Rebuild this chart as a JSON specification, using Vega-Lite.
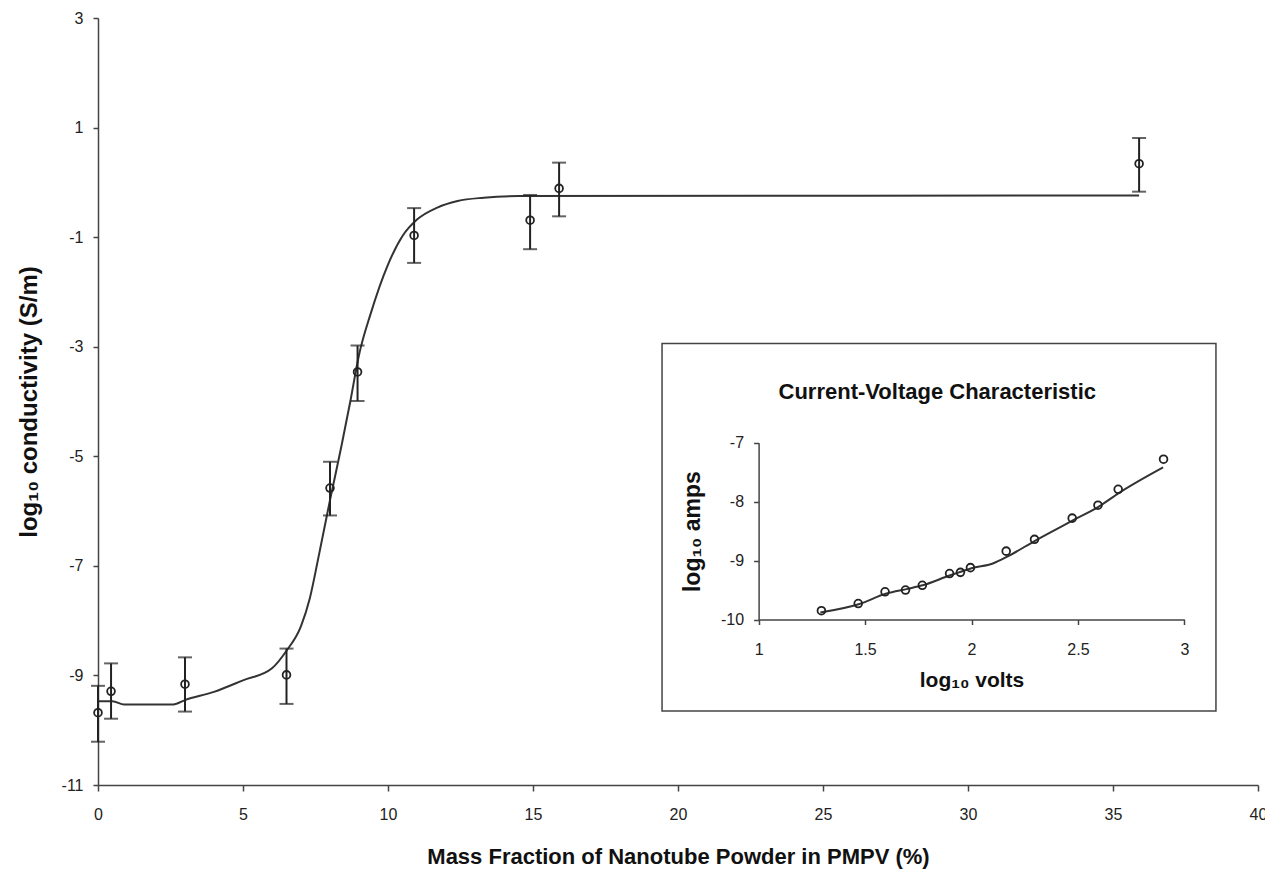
{
  "$schema": "https://vega.github.io/schema/vega-lite/v6.json",
  "autosize": {"type": "none"},
  "padding": {"left": 98, "top": 18, "right": 7, "bottom": 89},
  "width": 1160,
  "height": 767,
  "background": "white",
  "config": {
    "view": {"stroke": null},
    "font": "Liberation Sans",
    "axis": {
      "grid": false,
      "domainColor": "#444",
      "tickColor": "#444",
      "labelColor": "#222",
      "titleColor": "#111",
      "labelFont": "Liberation Sans",
      "titleFont": "Liberation Sans",
      "titleFontWeight": "bold",
      "domainWidth": 1.5,
      "tickWidth": 1.5,
      "labelExpr": "'' + datum.value"
    }
  },
  "datasets": {
    "meas": [
      {"x": 0, "y": -9.68, "lo": -10.21, "hi": -9.19},
      {"x": 0.45, "y": -9.29, "lo": -9.79, "hi": -8.78},
      {"x": 3, "y": -9.16, "lo": -9.66, "hi": -8.67},
      {"x": 6.5, "y": -8.99, "lo": -9.52, "hi": -8.51},
      {"x": 8, "y": -5.58, "lo": -6.08, "hi": -5.1},
      {"x": 8.95, "y": -3.46, "lo": -3.99, "hi": -2.98},
      {"x": 10.9, "y": -0.97, "lo": -1.47, "hi": -0.47},
      {"x": 14.9, "y": -0.69, "lo": -1.22, "hi": -0.23},
      {"x": 15.9, "y": -0.11, "lo": -0.62, "hi": 0.36},
      {"x": 35.9, "y": 0.34, "lo": -0.17, "hi": 0.81}
    ],
    "fit": [
      {"x": 0, "y": -9.47}, {"x": 0.5, "y": -9.47}, {"x": 0.9, "y": -9.53},
      {"x": 2.6, "y": -9.53}, {"x": 3.0, "y": -9.45}, {"x": 4.0, "y": -9.3},
      {"x": 5.0, "y": -9.09}, {"x": 6.0, "y": -8.87}, {"x": 6.5, "y": -8.55},
      {"x": 7.0, "y": -8.1}, {"x": 7.3, "y": -7.6}, {"x": 7.6, "y": -6.85},
      {"x": 8.0, "y": -5.8}, {"x": 8.4, "y": -4.8}, {"x": 8.7, "y": -4.0},
      {"x": 9.0, "y": -3.15}, {"x": 9.4, "y": -2.4}, {"x": 10.0, "y": -1.5},
      {"x": 10.5, "y": -0.98}, {"x": 11.0, "y": -0.68}, {"x": 11.7, "y": -0.46},
      {"x": 12.4, "y": -0.34}, {"x": 13.3, "y": -0.28}, {"x": 14.5, "y": -0.25},
      {"x": 35.9, "y": -0.24}
    ],
    "iv": [
      {"v": 1.295, "a": -9.85}, {"v": 1.468, "a": -9.73}, {"v": 1.594, "a": -9.53},
      {"v": 1.69, "a": -9.5}, {"v": 1.769, "a": -9.42}, {"v": 1.897, "a": -9.22},
      {"v": 1.948, "a": -9.2}, {"v": 1.995, "a": -9.12}, {"v": 2.163, "a": -8.84},
      {"v": 2.296, "a": -8.64}, {"v": 2.473, "a": -8.28}, {"v": 2.594, "a": -8.06},
      {"v": 2.689, "a": -7.79}, {"v": 2.902, "a": -7.28}
    ],
    "ivfit": [
      {"v": 1.29, "a": -9.88}, {"v": 1.47, "a": -9.74}, {"v": 1.6, "a": -9.56},
      {"v": 1.7, "a": -9.48}, {"v": 1.77, "a": -9.42}, {"v": 1.9, "a": -9.25},
      {"v": 1.95, "a": -9.19}, {"v": 2.0, "a": -9.13}, {"v": 2.1, "a": -9.05},
      {"v": 2.17, "a": -8.93}, {"v": 2.3, "a": -8.66}, {"v": 2.47, "a": -8.33},
      {"v": 2.6, "a": -8.08}, {"v": 2.69, "a": -7.86}, {"v": 2.9, "a": -7.42}
    ]
  },
  "layer": [
    {
      "layer": [
        {
          "data": {"values": [{}]},
          "mark": {"type": "rect", "fill": null, "stroke": "#444", "strokeWidth": 1.5},
          "encoding": {
            "x": {"datum": 19.45, "type": "quantitative"},
            "x2": {"datum": 38.55},
            "y": {"datum": -2.94, "type": "quantitative"},
            "y2": {"datum": -9.65}
          }
        },
        {
          "data": {"values": [{"t": "Current-Voltage Characteristic"}]},
          "mark": {"type": "text", "fontSize": 22, "fontWeight": "bold", "font": "Liberation Sans", "color": "#111", "baseline": "middle", "align": "center"},
          "encoding": {
            "x": {"datum": 28.94, "type": "quantitative"},
            "y": {"datum": -3.83, "type": "quantitative"},
            "text": {"field": "t"}
          }
        },
        {
          "data": {"name": "fit"},
          "mark": {"type": "line", "color": "#333", "strokeWidth": 2, "interpolate": "monotone"},
          "encoding": {
            "x": {"field": "x", "type": "quantitative"},
            "y": {"field": "y", "type": "quantitative"}
          }
        },
        {
          "data": {"name": "meas"},
          "mark": {"type": "rule", "color": "#222", "strokeWidth": 2},
          "encoding": {
            "x": {"field": "x", "type": "quantitative"},
            "y": {"field": "lo", "type": "quantitative"},
            "y2": {"field": "hi"}
          }
        },
        {
          "data": {"name": "meas"},
          "mark": {"type": "tick", "orient": "horizontal", "color": "#222", "size": 14, "thickness": 2},
          "encoding": {
            "x": {"field": "x", "type": "quantitative"},
            "y": {"field": "lo", "type": "quantitative"}
          }
        },
        {
          "data": {"name": "meas"},
          "mark": {"type": "tick", "orient": "horizontal", "color": "#222", "size": 14, "thickness": 2},
          "encoding": {
            "x": {"field": "x", "type": "quantitative"},
            "y": {"field": "hi", "type": "quantitative"}
          }
        },
        {
          "data": {"name": "meas"},
          "mark": {"type": "point", "shape": "circle", "filled": false, "color": "#222", "strokeWidth": 1.8, "size": 60, "opacity": 1},
          "encoding": {
            "x": {
              "field": "x", "type": "quantitative",
              "scale": {"domain": [0, 40], "nice": false, "zero": false},
              "axis": {
                "title": "Mass Fraction of Nanotube Powder in PMPV (%)",
                "values": [0, 5, 10, 15, 20, 25, 30, 35, 40],
                "labelFontSize": 16,
                "titleFontSize": 22,
                "tickSize": 6,
                "labelPadding": 15,
                "titlePadding": 24,
                "labelFlush": false
              }
            },
            "y": {
              "field": "y", "type": "quantitative",
              "scale": {"domain": [-11, 3], "nice": false, "zero": false},
              "axis": {
                "title": "log₁₀ conductivity (S/m)",
                "values": [3, 1, -1, -3, -5, -7, -9, -11],
                "labelFontSize": 16,
                "titleFontSize": 24,
                "tickSize": 5,
                "labelPadding": 10,
                "titlePadding": 20,
                "labelFlush": false
              }
            }
          }
        }
      ]
    },
    {
      "layer": [
        {
          "data": {"name": "ivfit"},
          "mark": {"type": "line", "color": "#333", "strokeWidth": 2, "interpolate": "monotone"},
          "encoding": {
            "x": {"field": "v", "type": "quantitative"},
            "y": {"field": "a", "type": "quantitative"}
          }
        },
        {
          "data": {"name": "iv"},
          "mark": {"type": "point", "shape": "circle", "filled": false, "color": "#222", "strokeWidth": 1.8, "size": 60, "opacity": 1},
          "encoding": {
            "x": {
              "field": "v", "type": "quantitative",
              "scale": {"domain": [1, 3], "nice": false, "zero": false, "range": [660.6, 1086.4]},
              "axis": {
                "orient": "bottom",
                "offset": -165.5,
                "title": "log₁₀ volts",
                "values": [1, 1.5, 2, 2.5, 3],
                "labelFontSize": 16,
                "titleFontSize": 21,
                "tickSize": 5,
                "labelPadding": 17,
                "titlePadding": 12,
                "labelFlush": false
              }
            },
            "y": {
              "field": "a", "type": "quantitative",
              "scale": {"domain": [-10, -7], "nice": false, "zero": false, "range": [601.5, 424.7]},
              "axis": {
                "orient": "left",
                "offset": -660.6,
                "title": "log₁₀ amps",
                "values": [-10, -9, -8, -7],
                "labelFontSize": 16,
                "titleFontSize": 23,
                "tickSize": 5,
                "labelPadding": 10,
                "titlePadding": 16,
                "labelFlush": false
              }
            }
          }
        }
      ]
    }
  ],
  "resolve": {
    "scale": {"x": "independent", "y": "independent"},
    "axis": {"x": "independent", "y": "independent"}
  }
}
